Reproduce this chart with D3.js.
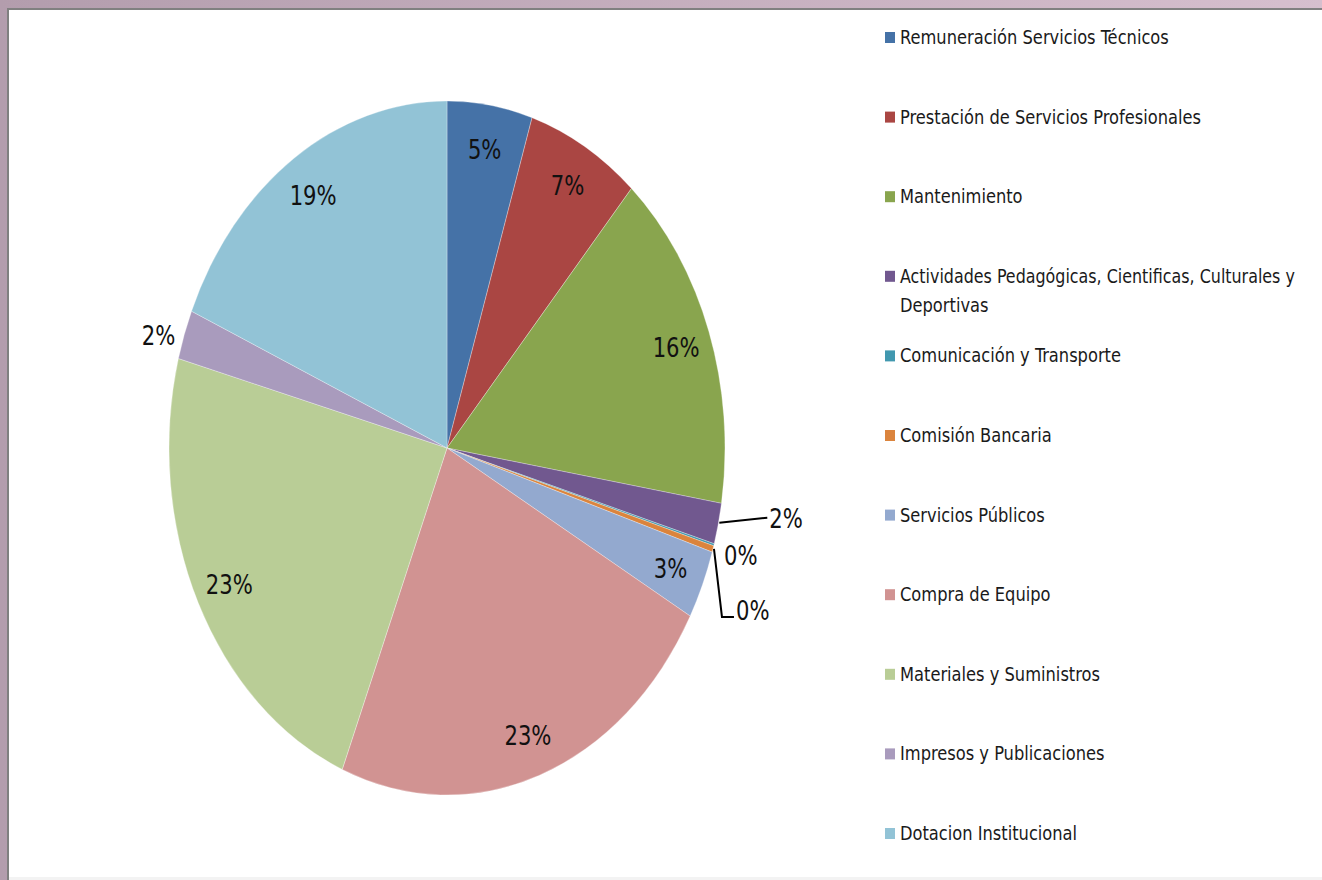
<!DOCTYPE html>
<html>
<head>
<meta charset="utf-8">
<script src="https://cdn.jsdelivr.net/npm/d3@7"></script>
<style>
  html, body { margin: 0; padding: 0; background: #fff; }
  svg { display: block; }
</style>
</head>
<body>
<svg id="chart" width="1322" height="880"></svg>
<script>
const categories = [
  "Remuneración Servicios Técnicos",
  "Prestación de Servicios Profesionales",
  "Mantenimiento",
  "Actividades Pedagógicas, Cientificas, Culturales y Deportivas",
  "Comunicación y Transporte",
  "Comisión Bancaria",
  "Servicios Públicos",
  "Compra de Equipo",
  "Materiales y Suministros",
  "Impresos y Publicaciones",
  "Dotacion Institucional"
];
const values = [4.95, 6.6, 16.0, 1.9, 0.1, 0.3, 3.2, 23.1, 23.0, 2.3, 18.55];
const colors = ["#4572A7", "#AA4643", "#89A54E", "#71588F", "#4198AF", "#DB843D",
                "#93A9CF", "#D19392", "#B9CD96", "#A99BBD", "#92C3D6"];

const svg = d3.select("#chart");
const W = 1322, H = 880;
const FONT = "'Liberation Sans Narrow', 'DejaVu Sans Condensed', 'Liberation Sans', sans-serif";

// frame
const grad = svg.append("defs").append("linearGradient").attr("id", "frame")
  .attr("x1", 0).attr("x2", 1).attr("y1", 0).attr("y2", 0);
grad.append("stop").attr("offset", 0).attr("stop-color", "#b39dad");
grad.append("stop").attr("offset", 1).attr("stop-color", "#d6bfce");
svg.append("rect").attr("width", W).attr("height", H).attr("fill", "url(#frame)");
svg.append("rect").attr("x", 7).attr("y", 8).attr("width", W - 7).attr("height", H - 8).attr("fill", "#808080");
svg.append("rect").attr("x", 9).attr("y", 10).attr("width", W - 9).attr("height", H - 10).attr("fill", "#ffffff");
svg.append("rect").attr("x", 9).attr("y", H - 3).attr("width", W - 9).attr("height", 3).attr("fill", "#f3f3f3");

// pie geometry (elliptical)
const cx = 447, cy = 448, rx = 278, ry = 347;
const pie = d3.pie().sort(null).value(d => d);
const arcs = pie(values);
const arc = d3.arc().innerRadius(0).outerRadius(ry);
const total = d3.sum(values);
const fmt = d3.format(".0%");

const g = svg.append("g").attr("transform", `translate(${cx},${cy}) scale(${rx / ry},1)`);
g.selectAll("path").data(arcs).enter().append("path")
  .attr("d", arc)
  .attr("fill", (d, i) => colors[i])
  .attr("stroke", "#ffffff")
  .attr("stroke-opacity", 0.5)
  .attr("stroke-width", 0.6)
  .attr("vector-effect", "non-scaling-stroke");

function pt(angle, f) {
  return [cx + rx * f * Math.sin(angle), cy - ry * f * Math.cos(angle)];
}
function mid(d) { return (d.startAngle + d.endAngle) / 2; }

function measure(text, size) {
  const t = svg.append("text").attr("font-family", FONT).attr("font-size", size).text(text);
  const len = t.node().getComputedTextLength();
  t.remove();
  return len;
}
const labelSize = 27;
const labelSqueeze = Math.min(1, 47 / measure("23%", labelSize));
const legendSize = 19.5;
const legendSqueeze = Math.min(1, 269 / measure(categories[0], legendSize));

// text drawn at natural size, squeezed horizontally with a transform
function addText(parent, x, y, txt, size, squeeze, anchor, maxLen) {
  const nat = measure(txt, size);
  let sx = squeeze;
  if (maxLen && nat * sx > maxLen) sx = maxLen / nat;
  return parent.append("text")
    .attr("transform", `translate(${x},${y}) scale(${sx},1)`)
    .attr("x", 0).attr("y", 0)
    .attr("text-anchor", anchor)
    .text(txt);
}

// data labels
const labG = svg.append("g").attr("font-family", FONT).attr("font-size", labelSize).attr("fill", "#111");
const capL = labelSize * 0.36;
arcs.forEach((d, i) => {
  const txt = fmt(values[i] / total);
  const a = mid(d);
  const e = pt(a, 1);
  if (i === 3) {
    labG.append("path").attr("d", d3.line()([[e[0] + 1, e[1] - 1], [e[0] + 49, e[1] - 6]]))
      .attr("stroke", "#000").attr("stroke-width", 2).attr("fill", "none");
    addText(labG, e[0] + 51, e[1] + 4, txt, labelSize, labelSqueeze, "start");
  } else if (i === 4) {
    addText(labG, e[0] + 10, e[1] + 20, txt, labelSize, labelSqueeze, "start");
  } else if (i === 5) {
    const p1 = [e[0] + 9, e[1] + 68], p2 = [p1[0] + 12, p1[1]];
    labG.append("path").attr("d", d3.line()([[e[0] + 1, e[1]], p1, p2]))
      .attr("stroke", "#000").attr("stroke-width", 2).attr("fill", "none");
    addText(labG, p2[0] + 2, p2[1] + 3, txt, labelSize, labelSqueeze, "start");
  } else if (i === 9) {
    addText(labG, e[0] - 9, e[1] + 10, txt, labelSize, labelSqueeze, "end");
  } else {
    const p = pt(a, 0.875);
    addText(labG, p[0], p[1] + capL + 1, txt, labelSize, labelSqueeze, "middle");
  }
});

// legend
const ly = d3.scaleLinear().domain([0, categories.length - 1]).range([44, 840]);
const leg = svg.append("g").attr("font-family", FONT).attr("font-size", legendSize).attr("fill", "#1a1a1a");
categories.forEach((c, i) => {
  const y = ly(i);
  leg.append("rect").attr("x", 885).attr("y", y - 12).attr("width", 10).attr("height", 11).attr("fill", colors[i]);
  const words = c.split(" ");
  let line = [], lines = [];
  words.forEach(w => {
    const test = line.concat([w]).join(" ");
    if (measure(test, legendSize) * legendSqueeze > 410 && line.length) {
      lines.push(line.join(" "));
      line = [w];
    } else line.push(w);
  });
  lines.push(line.join(" "));
  lines.forEach((l, k) => addText(leg, 900, y + k * 29, l, legendSize, legendSqueeze, "start", 395));
});
</script>
</body>
</html>
